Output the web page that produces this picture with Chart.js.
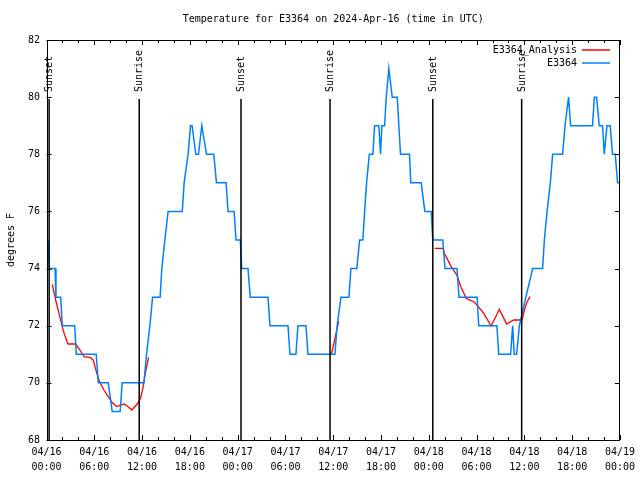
<!DOCTYPE html>
<html>
<head>
<meta charset="utf-8">
<script src="https://cdn.jsdelivr.net/npm/chart.js@4.4.1/dist/chart.umd.min.js"></script>
<style>
  html, body { margin: 0; padding: 0; background: #fff; }
  canvas { display: block; }
</style>
</head>
<body>
<canvas id="chartTemp" width="640" height="480"></canvas>
<script>
const titleText = 'Temperature for E3364 on 2024-Apr-16 (time in UTC)';
const yTitle = 'degrees F';

// x values are hours since 04/16 00:00 UTC
const xDates = ['04/16', '04/16', '04/16', '04/16', '04/17', '04/17', '04/17', '04/17', '04/18', '04/18', '04/18', '04/18', '04/19'];
const xTimes = ['00:00', '06:00', '12:00', '18:00', '00:00', '06:00', '12:00', '18:00', '00:00', '06:00', '12:00', '18:00', '00:00'];

const sunLabels = ['Sunset', 'Sunrise', 'Sunset', 'Sunrise', 'Sunset', 'Sunrise'];
const sunHours  = [0.33, 11.64, 24.42, 35.6, 48.5, 59.66];

// E3364 observations
const obsHours = [0.19, 0.35, 1.07, 1.19, 1.78, 1.98, 3.54, 3.74, 6.24, 6.50, 7.75, 8.25, 9.25, 9.50,
  12.23, 12.56, 12.98, 13.32, 14.27, 14.48, 14.86, 15.27, 17.05, 17.28, 17.78, 18.08, 18.28, 18.75,
  19.08, 19.50, 20.09, 21.00, 21.34, 22.55, 22.80, 23.55, 23.80, 24.33, 24.51, 25.30, 25.58, 27.81,
  28.06, 30.32, 30.57, 31.32, 31.57, 32.58, 32.83, 36.21, 36.49, 36.97, 37.97, 38.22, 38.97, 39.31,
  39.72, 39.94, 40.19, 40.53, 40.98, 41.19, 41.73, 41.94, 42.11, 42.45, 42.66, 42.98, 43.41, 44.04,
  44.24, 44.45, 45.58, 45.74, 47.05, 47.50, 48.30, 48.50, 49.76, 50.03, 51.54, 51.79, 54.07, 54.27,
  56.55, 56.78, 58.27, 58.53, 58.72, 59.03, 59.37, 60.19, 61.04, 62.29, 62.51, 62.85, 63.26, 63.55,
  64.80, 65.10, 65.55, 65.81, 68.56, 68.78, 69.07, 69.40, 69.82, 70.03, 70.37, 70.78, 71.07, 71.41,
  71.70, 72.0];
const obsTemps = [75, 74, 74, 73, 73, 72, 72, 71, 71, 70, 70, 69, 69, 70,
  70, 71, 72, 73, 73, 74, 75, 76, 76, 77, 78, 79, 79, 78,
  78, 79, 78, 78, 77, 77, 76, 76, 75, 75, 74, 74, 73, 73,
  72, 72, 71, 71, 72, 72, 71, 71, 72, 73, 73, 74, 74, 75,
  75, 76, 77, 78, 78, 79, 79, 78, 79, 79, 80, 81, 80, 80,
  79, 78, 78, 77, 77, 76, 76, 75, 75, 74, 74, 73, 73, 72,
  72, 71, 71, 72, 71, 71, 72, 73, 74, 74, 75, 76, 77, 78,
  78, 79, 80, 79, 79, 80, 80, 79, 79, 78, 79, 79, 78, 78,
  77, 77];

// E3364_Analysis (null = no analysis)
const anaHours = [0.73, 1.15, 1.57, 1.98, 2.28, 2.70, 3.66, 4.20, 4.70, 5.54, 5.87, 6.29, 6.67, 7.21,
  7.75, 8.25, 8.80, 9.30, 9.72, 10.22, 10.72, 11.39, 11.81, 12.14, 12.44, 12.82,
  24, 35.76, 36.18, 36.68,
  42, 48.75, 49.76, 49.97, 50.81, 51.51, 52.06, 52.70, 53.73, 54.14, 54.90, 55.82, 56.86, 57.78,
  58.66, 59.71, 60.00, 60.34, 60.72];
const anaTemps = [73.45, 72.9, 72.43, 71.97, 71.67, 71.36, 71.36, 71.15, 70.92, 70.88, 70.80, 70.36, 70.04, 69.75,
  69.52, 69.31, 69.17, 69.22, 69.26, 69.17, 69.05, 69.26, 69.46, 69.87, 70.39, 70.89,
  null, 71.0, 71.5, 72.15,
  null, 74.71, 74.71, 74.53, 74.07, 73.78, 73.34, 72.96, 72.82, 72.69, 72.43, 71.99, 72.57, 72.06,
  72.2, 72.2, 72.55, 72.84, 73.02];

const FONT = '10px "DejaVu Sans Mono"';
const RED = 'rgb(255,0,0)';
const BLUE = 'rgb(0,128,255)';

const gnuplotFrame = {
  id: 'gnuplotFrame',
  afterDatasetsDraw(chart) {
    const { ctx, chartArea: a, scales: { x, y } } = chart;
    ctx.save();
    ctx.fillStyle = '#000';
    ctx.strokeStyle = '#000';
    ctx.font = FONT;

    // sunrise / sunset markers
    ctx.lineWidth = 1.5;
    sunHours.forEach((h, i) => {
      const px = x.getPixelForValue(h);
      ctx.beginPath();
      ctx.moveTo(px, a.top + 59);
      ctx.lineTo(px, a.bottom);
      ctx.stroke();
      ctx.save();
      ctx.translate(px + 0.5, a.top + 52);
      ctx.rotate(-Math.PI / 2);
      ctx.textAlign = 'left';
      ctx.textBaseline = 'middle';
      ctx.fillText(sunLabels[i], 0, 0);
      ctx.restore();
    });

    // border
    ctx.lineWidth = 1;
    ctx.strokeRect(Math.round(a.left) + 0.5, Math.round(a.top) + 0.5,
                   Math.round(a.right - a.left) - 1, Math.round(a.bottom - a.top));

    // inward ticks
    ctx.beginPath();
    for (let h = 0; h <= 72; h += 2) {
      const px = Math.round(x.getPixelForValue(h)) + 0.5;
      const len = h % 6 === 0 ? 5 : 3;
      ctx.moveTo(px, a.bottom); ctx.lineTo(px, a.bottom - len);
      ctx.moveTo(px, a.top); ctx.lineTo(px, a.top + len);
    }
    for (let v = 68; v <= 82; v += 2) {
      const py = Math.round(y.getPixelForValue(v)) + 0.5;
      ctx.moveTo(a.left, py); ctx.lineTo(a.left + 5, py);
      ctx.moveTo(a.right, py); ctx.lineTo(a.right - 5, py);
    }
    ctx.stroke();

    // title
    ctx.textAlign = 'center';
    ctx.textBaseline = 'middle';
    ctx.fillText(titleText, (a.left + a.right) / 2, 19);

    // y axis title
    ctx.save();
    ctx.translate(11, (a.top + a.bottom) / 2);
    ctx.rotate(-Math.PI / 2);
    ctx.fillText(yTitle, 0, 0);
    ctx.restore();

    // legend, gnuplot style: text then sample line
    const order = [1, 0];
    order.forEach((di, row) => {
      const ds = chart.data.datasets[di];
      const ly = 50 + row * 13;
      ctx.textAlign = 'right';
      ctx.fillText(ds.label, 577, ly);
      ctx.strokeStyle = ds.borderColor;
      ctx.lineWidth = 1.5;
      ctx.beginPath();
      ctx.moveTo(582, ly); ctx.lineTo(610, ly);
      ctx.stroke();
    });
    ctx.restore();
  }
};

function boot() {
  const el = document.getElementById('chartTemp');
  const tickFont = { family: 'DejaVu Sans Mono', size: 10, lineHeight: 1.5 };

  new Chart(el.getContext('2d'), {
    type: 'line',
    data: {
      datasets: [
        {
          label: 'E3364',
          data: obsHours.map((h, i) => ({ x: h, y: obsTemps[i] })),
          borderColor: BLUE, borderWidth: 1.5
        },
        {
          label: 'E3364_Analysis',
          data: anaHours.map((h, i) => ({ x: h, y: anaTemps[i] })),
          borderColor: RED, borderWidth: 1.3, spanGaps: false
        }
      ]
    },
    options: {
      responsive: false,
      animation: false,
      devicePixelRatio: 1,
      layout: { padding: { top: 40, right: 19.3, left: 0, bottom: 0 } },
      elements: { point: { radius: 0 }, line: { tension: 0 } },
      plugins: { legend: { display: false }, title: { display: false }, tooltip: { enabled: false } },
      scales: {
        x: {
          type: 'linear', min: 0, max: 72,
          grid: { display: false, drawTicks: false }, border: { display: false },
          ticks: {
            stepSize: 6, autoSkip: false, maxRotation: 0, padding: 5, color: '#000', font: tickFont,
            callback: v => { const i = Math.round(v / 6); return [xDates[i], xTimes[i]]; }
          },
          afterFit: s => { s.height = 40; }
        },
        y: {
          min: 68, max: 82,
          grid: { display: false, drawTicks: false }, border: { display: false },
          ticks: { stepSize: 2, padding: 6.5, color: '#000', font: tickFont },
          afterFit: s => { s.width = 46.5; }
        }
      }
    },
    plugins: [gnuplotFrame]
  });
}

document.addEventListener('DOMContentLoaded', boot);
</script>
</body>
</html>
